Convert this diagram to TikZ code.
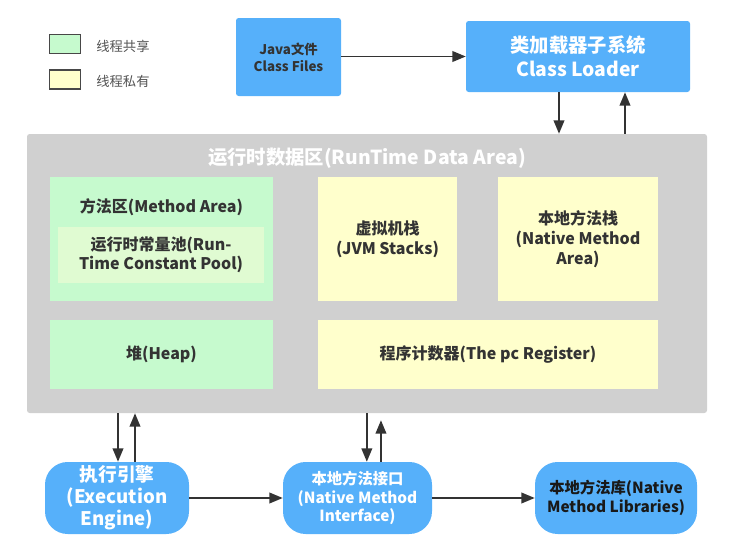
\documentclass[tikz,border=0pt]{standalone}
\usepackage{fontspec}
\setmainfont{Noto Sans CJK SC}
\usetikzlibrary{arrows.meta}

\definecolor{jvmblue}{RGB}{86,176,250}
\definecolor{areagray}{RGB}{208,208,208}
\definecolor{sharegreen}{RGB}{198,250,206}
\definecolor{privyellow}{RGB}{255,255,204}
\definecolor{poolgreen}{RGB}{224,251,210}
\definecolor{inkgray}{RGB}{51,51,51}

\tikzset{
  blk/.style={draw=none, inner sep=0pt, align=center, text=inkgray,
    font=\bfseries\fontsize{12}{15}\selectfont},
  bluebox/.style={blk, fill=jvmblue, rounded corners=2pt},
  pillbox/.style={blk, fill=jvmblue, rounded corners=17pt, text=white,
    font=\bfseries\fontsize{11.5}{14}\selectfont},
  legendbox/.style={draw=inkgray!90, line width=1.1pt, minimum width=23pt, minimum height=14.5pt, inner sep=0pt},
  arr/.style={draw=inkgray, line width=1.2pt, -{Triangle[length=10pt,width=8pt]}},
}

\begin{document}
\begin{tikzpicture}[x=0.75pt,y=0.75pt,yscale=-1,xscale=1]
    \useasboundingbox (0,0) rectangle (732,553); %same size as the reference

    %Legend
    \node [legendbox, fill=sharegreen] (shared) at (65,44) {};
    \node [legendbox, fill=privyellow] (private) at (65,79.5) {};
    % Text Node
    \node [anchor=west, inner sep=0pt, text=inkgray!85, font=\fontsize{10}{12}\selectfont] (sharedlbl) at (96,46) {线程共享};
    % Text Node
    \node [anchor=west, inner sep=0pt, text=inkgray!85, font=\fontsize{10}{12}\selectfont] (privatelbl) at (96,81) {线程私有};

    %Shape: Rectangle [Java files]
    \node [bluebox, minimum width=78.75pt, minimum height=58.5pt, font=\bfseries\fontsize{10}{12.5}\selectfont] (java) at (288.5,57) {Java文件\\Class Files};
    %Shape: Rectangle [class loader]
    \node [bluebox, minimum width=168pt, minimum height=53.25pt, text=white, font=\bfseries\fontsize{14.5}{18}\selectfont] (loader) at (578,56.5) {类加载器子系统\\Class Loader};

    %Shape: Rectangle [runtime data area]
    \node [blk, fill=areagray, rounded corners=2pt, minimum width=510pt, minimum height=209.25pt] (rda) at (367,273.5) {};
    % Text Node
    \node [blk, text=white, font=\bfseries\fontsize{14.5}{18}\selectfont] (rdalbl) at (367,158) {运行时数据区(RunTime Data Area)};

    %Shape: Rectangle [method area]
    \node [blk, fill=sharegreen, minimum width=167.25pt, minimum height=93pt] (method) at (161.5,239) {};
    % Text Node
    \node [blk] (methodlbl) at (161.5,207) {方法区(Method Area)};
    %Shape: Rectangle [constant pool]
    \node [blk, fill=poolgreen, minimum width=154.5pt, minimum height=42pt, font=\bfseries\fontsize{12}{14.25}\selectfont] (pool) at (161,255) {运行时常量池(Run-\\Time Constant Pool)};
    %Shape: Rectangle [jvm stacks]
    \node [blk, fill=privyellow, minimum width=104.25pt, minimum height=93pt] (stacks) at (387.5,239) {虚拟机栈\\(JVM Stacks)};
    %Shape: Rectangle [native method stacks]
    \node [blk, fill=privyellow, minimum width=120pt, minimum height=93pt] (nstacks) at (578,239) {本地方法栈\\(Native Method\\Area)};
    %Shape: Rectangle [heap]
    \node [blk, fill=sharegreen, minimum width=167.25pt, minimum height=51.75pt] (heap) at (161.5,354.5) {堆(Heap)};
    %Shape: Rectangle [pc register]
    \node [blk, fill=privyellow, minimum width=255pt, minimum height=51.75pt] (pc) at (488,354.5) {程序计数器(The pc Register)};

    %Shape: Rounded Rectangle [execution engine]
    \node [pillbox, minimum width=108pt, minimum height=54pt, font=\bfseries\fontsize{14}{16.5}\selectfont] (engine) at (117,498) {执行引擎\\(Execution\\Engine)};
    %Shape: Rounded Rectangle [native interface]
    \node [pillbox, minimum width=111.75pt, minimum height=54pt] (nif) at (357.5,498) {本地方法接口\\(Native Method\\Interface)};
    %Shape: Rounded Rectangle [native libraries]
    \node [pillbox, minimum width=121.5pt, minimum height=54pt, text=black!90] (nlib) at (616,498) {本地方法库(Native\\Method Libraries)};

    %Straight Lines
    \draw [arr] (java.east |- loader.west) -- (loader.west);
    \draw [arr] ([xshift=-14.25pt]loader.south) -- ([xshift=-14.25pt]loader.south |- rda.north);
    \draw [arr] ([xshift=35.25pt]loader.south |- rda.north) -- ([xshift=35.25pt]loader.south);
    \draw [arr] ([xshift=0.75pt]engine.north |- rda.south) -- ([xshift=0.75pt]engine.north);
    \draw [arr] ([xshift=13.5pt]engine.north) -- ([xshift=13.5pt]engine.north |- rda.south);
    \draw [arr] ([xshift=7pt]nif.north |- rda.south) -- ([xshift=7pt]nif.north);
    \draw [arr] ([xshift=17.6pt]nif.north) -- ([xshift=17.6pt,yshift=5.25pt]nif.north |- rda.south);
    \draw [arr] (engine.east) -- (nif.west);
    \draw [arr] (nif.east) -- (nlib.west);

\end{tikzpicture}
\end{document}
